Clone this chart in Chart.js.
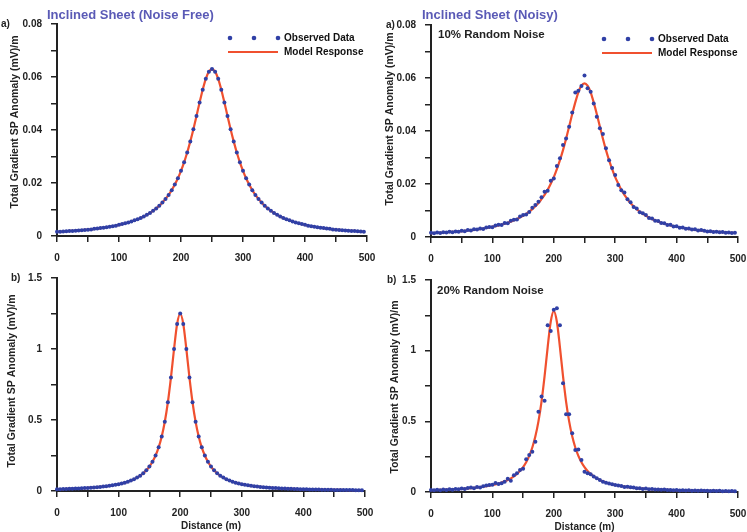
<!DOCTYPE html>
<html>
<head>
<meta charset="utf-8">
<script src="https://cdn.jsdelivr.net/npm/chart.js@4.4.1/dist/chart.umd.min.js"></script>
<style>
  html, body { margin: 0; padding: 0; background: #ffffff; }
  #wrap { position: relative; width: 747px; height: 532px; overflow: hidden; background: #ffffff; }
  #wrap canvas { position: absolute; left: 0; top: 0; }
</style>
</head>
<body>
<div id="wrap">
  <canvas id="panelTL" width="747" height="532"></canvas>
  <canvas id="panelTR" width="747" height="532"></canvas>
  <canvas id="panelBL" width="747" height="532"></canvas>
  <canvas id="panelBR" width="747" height="532"></canvas>
</div>
<script>
// Station positions along the profile (m)
const distance = [
  0,5,10,15,20,25,30,35,40,45,50,55,60,65,70,75,80,85,90,95,
  100,105,110,115,120,125,130,135,140,145,150,155,160,165,170,175,180,185,190,195,
  200,205,210,215,220,225,230,235,240,245,250,255,260,265,270,275,280,285,290,295,
  300,305,310,315,320,325,330,335,340,345,350,355,360,365,370,375,380,385,390,395,
  400,405,410,415,420,425,430,435,440,445,450,455,460,465,470,475,480,485,490,495
];

// a) noise-free total gradient (mV/m) — observed and model coincide
const sheetA = [
  0.0016,0.0016,0.0017,0.0018,0.0019,0.0019,0.0020,0.0021,0.0022,0.0023,
  0.0024,0.0025,0.0027,0.0028,0.0030,0.0031,0.0033,0.0035,0.0037,0.0039,
  0.0042,0.0045,0.0048,0.0051,0.0055,0.0059,0.0063,0.0068,0.0074,0.0080,
  0.0087,0.0095,0.0104,0.0114,0.0126,0.0140,0.0155,0.0173,0.0194,0.0218,
  0.0246,0.0278,0.0315,0.0357,0.0403,0.0453,0.0504,0.0552,0.0593,0.0620,
  0.0630,0.0620,0.0593,0.0552,0.0504,0.0453,0.0403,0.0357,0.0315,0.0278,
  0.0246,0.0218,0.0194,0.0173,0.0155,0.0140,0.0126,0.0114,0.0104,0.0095,
  0.0087,0.0080,0.0074,0.0068,0.0063,0.0059,0.0055,0.0051,0.0048,0.0045,
  0.0042,0.0039,0.0037,0.0035,0.0033,0.0031,0.0030,0.0028,0.0027,0.0025,
  0.0024,0.0023,0.0022,0.0021,0.0020,0.0019,0.0019,0.0018,0.0017,0.0016
];

// b) noise-free total gradient (mV/m)
const sheetB = [
  0.0124,0.0130,0.0137,0.0144,0.0152,0.0161,0.0171,0.0181,0.0192,0.0205,
  0.0218,0.0233,0.0250,0.0268,0.0289,0.0312,0.0338,0.0367,0.0400,0.0438,
  0.0481,0.0531,0.0588,0.0656,0.0735,0.0830,0.0943,0.1081,0.1250,0.1460,
  0.1724,0.2062,0.2500,0.3077,0.3846,0.4878,0.6250,0.8000,1.0000,1.1765,
  1.2500,1.1765,1.0000,0.8000,0.6250,0.4878,0.3846,0.3077,0.2500,0.2062,
  0.1724,0.1460,0.1250,0.1081,0.0943,0.0830,0.0735,0.0656,0.0588,0.0531,
  0.0481,0.0438,0.0400,0.0367,0.0338,0.0312,0.0289,0.0268,0.0250,0.0233,
  0.0218,0.0205,0.0192,0.0181,0.0171,0.0161,0.0152,0.0144,0.0137,0.0130,
  0.0124,0.0118,0.0112,0.0107,0.0102,0.0098,0.0094,0.0090,0.0086,0.0083,
  0.0079,0.0076,0.0074,0.0071,0.0068,0.0066,0.0063,0.0061,0.0059,0.0057
];

// a) 10% noise: observed data and inverted model response
const noisyAObserved = [
  0.0016,0.0014,0.0017,0.0015,0.0018,0.0017,0.0020,0.0018,0.0021,0.0020,
  0.0024,0.0022,0.0026,0.0025,0.0029,0.0028,0.0032,0.0030,0.0036,0.0038,
  0.0037,0.0043,0.0046,0.0045,0.0053,0.0052,0.0061,0.0065,0.0066,0.0077,
  0.0083,0.0085,0.0094,0.0110,0.0121,0.0133,0.0150,0.0171,0.0175,0.0212,
  0.0221,0.0268,0.0297,0.0347,0.0372,0.0416,0.0470,0.0545,0.0552,0.0570,
  0.0609,0.0561,0.0548,0.0504,0.0454,0.0410,0.0389,0.0335,0.0290,0.0260,
  0.0234,0.0196,0.0176,0.0168,0.0142,0.0131,0.0113,0.0108,0.0093,0.0090,
  0.0083,0.0072,0.0070,0.0061,0.0060,0.0053,0.0052,0.0045,0.0046,0.0040,
  0.0041,0.0035,0.0036,0.0031,0.0032,0.0028,0.0029,0.0025,0.0026,0.0024,
  0.0021,0.0022,0.0019,0.0020,0.0018,0.0019,0.0016,0.0017,0.0015,0.0016
];
const noisyAModel = [
  0.0014,0.0015,0.0016,0.0016,0.0017,0.0018,0.0019,0.0019,0.0020,0.0021,
  0.0022,0.0023,0.0025,0.0026,0.0027,0.0029,0.0030,0.0032,0.0034,0.0036,
  0.0039,0.0041,0.0044,0.0047,0.0050,0.0054,0.0058,0.0063,0.0068,0.0074,
  0.0080,0.0087,0.0096,0.0105,0.0116,0.0128,0.0143,0.0159,0.0178,0.0201,
  0.0226,0.0256,0.0290,0.0328,0.0371,0.0417,0.0464,0.0508,0.0546,0.0571,
  0.0580,0.0571,0.0546,0.0508,0.0464,0.0417,0.0371,0.0328,0.0290,0.0256,
  0.0226,0.0201,0.0178,0.0159,0.0143,0.0128,0.0116,0.0105,0.0096,0.0087,
  0.0080,0.0074,0.0068,0.0063,0.0058,0.0054,0.0050,0.0047,0.0044,0.0041,
  0.0039,0.0036,0.0034,0.0032,0.0030,0.0029,0.0027,0.0026,0.0025,0.0023,
  0.0022,0.0021,0.0020,0.0019,0.0019,0.0018,0.0017,0.0016,0.0016,0.0015
];

// b) 20% noise: observed data and inverted model response
const noisyBObserved = [
  0.014,0.012,0.016,0.013,0.017,0.015,0.019,0.016,0.022,0.019,
  0.025,0.021,0.028,0.031,0.026,0.035,0.031,0.041,0.046,0.049,
  0.052,0.063,0.057,0.062,0.073,0.094,0.080,0.118,0.133,0.156,
  0.165,0.232,0.262,0.285,0.356,0.568,0.675,0.646,1.180,1.140,
  1.290,1.300,1.180,0.770,0.550,0.550,0.415,0.297,0.300,0.226,
  0.144,0.132,0.125,0.110,0.097,0.085,0.073,0.065,0.061,0.055,
  0.050,0.046,0.043,0.036,0.038,0.033,0.031,0.026,0.027,0.022,
  0.024,0.019,0.022,0.017,0.018,0.016,0.017,0.014,0.015,0.013,
  0.014,0.011,0.013,0.010,0.012,0.009,0.011,0.008,0.010,0.008,
  0.009,0.007,0.008,0.007,0.008,0.006,0.007,0.006,0.007,0.005
];
const noisyBModel = [
  0.0127,0.0133,0.0140,0.0148,0.0156,0.0165,0.0175,0.0185,0.0197,0.0210,
  0.0224,0.0239,0.0256,0.0275,0.0296,0.0319,0.0346,0.0376,0.0410,0.0448,
  0.0492,0.0543,0.0602,0.0671,0.0753,0.0850,0.0966,0.1107,0.1280,0.1495,
  0.1766,0.2111,0.2560,0.3151,0.3938,0.4995,0.6400,0.8192,1.0240,1.2047,
  1.2800,1.2047,1.0240,0.8192,0.6400,0.4995,0.3938,0.3151,0.2560,0.2111,
  0.1766,0.1495,0.1280,0.1107,0.0966,0.0850,0.0753,0.0671,0.0602,0.0543,
  0.0492,0.0448,0.0410,0.0376,0.0346,0.0319,0.0296,0.0275,0.0256,0.0239,
  0.0224,0.0210,0.0197,0.0185,0.0175,0.0165,0.0156,0.0148,0.0140,0.0133,
  0.0127,0.0121,0.0115,0.0110,0.0105,0.0100,0.0096,0.0092,0.0088,0.0085,
  0.0081,0.0078,0.0075,0.0073,0.0070,0.0067,0.0065,0.0062,0.0060,0.0058
];

// Axis ticks (every tick gets a mark, only some get a label)
const xTickValues = [0,50,100,150,200,250,300,350,400,450,500];
const xTickLabels = ['0','','100','','200','','300','','400','','500'];
const yTickValuesA = [0,0.01,0.02,0.03,0.04,0.05,0.06,0.07,0.08];
const yTickLabelsA = ['0','','0.02','','0.04','','0.06','','0.08'];
const yTickValuesB = [0,0.25,0.5,0.75,1,1.25,1.5];
const yTickLabelsB = ['0','','0.5','','1','','1.5'];

const FONT = '"Liberation Sans", Arial, Helvetica, sans-serif';
const DOT = '#3040a6';
const LINE = '#f0502f';
const AXIS = '#222222';
const TITLE = '#5a5ab6';
const Y_TITLE = 'Total Gradient SP Anomaly (mV)/m';

const toPoints = (ys) => distance.map((x, i) => ({ x: x, y: ys[i] }));

// Texts around each panel: heading, panel tag, noise note, legend, axis titles
const decor = {
  id: 'decor',
  afterDraw(chart, args, o) {
    const ctx = chart.ctx;
    const a = chart.chartArea;
    ctx.save();
    ctx.textBaseline = 'middle';
    if (o.title) {
      ctx.font = 'bold 13px ' + FONT;
      ctx.fillStyle = TITLE;
      ctx.textAlign = 'left';
      ctx.fillText(o.title, o.titleX, o.titleY);
    }
    ctx.fillStyle = AXIS;
    ctx.font = 'bold 10px ' + FONT;
    ctx.textAlign = 'left';
    ctx.fillText(o.tag, o.tagX, o.tagY);
    if (o.note) {
      ctx.font = 'bold 11.5px ' + FONT;
      ctx.fillText(o.note, o.noteX, o.noteY);
    }
    if (o.legend) {
      const ly = a.top + 14;
      ctx.fillStyle = DOT;
      [173, 197, 221].forEach(dx => {
        ctx.beginPath();
        ctx.arc(a.left + dx, ly, 2.3, 0, Math.PI * 2);
        ctx.fill();
      });
      ctx.strokeStyle = LINE;
      ctx.lineWidth = 2.2;
      ctx.beginPath();
      ctx.moveTo(a.left + 171, ly + 14);
      ctx.lineTo(a.left + 221, ly + 14);
      ctx.stroke();
      ctx.fillStyle = '#111';
      ctx.font = 'bold 10px ' + FONT;
      ctx.fillText('Observed Data', a.left + 227, ly);
      ctx.fillText('Model Response', a.left + 227, ly + 14);
    }
    // y-axis title
    ctx.save();
    ctx.translate(o.yTitleX, o.yTitleY);
    ctx.rotate(-Math.PI / 2);
    ctx.textAlign = 'center';
    ctx.fillStyle = AXIS;
    ctx.font = 'bold 10.5px ' + FONT;
    ctx.fillText(Y_TITLE, 0, 0);
    ctx.restore();
    if (o.xTitle) {
      ctx.textAlign = 'center';
      ctx.fillStyle = AXIS;
      ctx.font = 'bold 10px ' + FONT;
      ctx.fillText(o.xTitle, (a.left + a.right) / 2, o.xTitleY);
    }
    ctx.restore();
  }
};

function makePanel(id, area, obs, model, yMax, yVals, yLabels, deco) {
  const W = 747, H = 532, Y_W = 57, X_H = 30;
  return new Chart(document.getElementById(id), {
    type: 'scatter',
    data: {
      datasets: [
        {
          label: 'Observed Data',
          data: toPoints(obs),
          showLine: false,
          pointRadius: 2,
          pointHoverRadius: 2,
          pointBackgroundColor: DOT,
          pointBorderWidth: 0,
          clip: false
        },
        {
          label: 'Model Response',
          data: toPoints(model),
          showLine: true,
          borderColor: LINE,
          borderWidth: 2.2,
          pointRadius: 0,
          cubicInterpolationMode: 'monotone',
          clip: false
        }
      ]
    },
    options: {
      responsive: false,
      animation: false,
      devicePixelRatio: 1,
      layout: {
        padding: {
          left: area.left - Y_W,
          right: W - area.right,
          top: area.top,
          bottom: H - area.bottom - X_H
        }
      },
      plugins: {
        legend: { display: false },
        tooltip: { enabled: false },
        decor: deco
      },
      scales: {
        x: {
          type: 'linear',
          min: 0,
          max: 500,
          afterBuildTicks: s => { s.ticks = xTickValues.map(v => ({ value: v })); },
          afterFit: s => { s.height = X_H; s.paddingLeft = 0; s.paddingRight = 0; },
          ticks: {
            callback: (v, i) => xTickLabels[i],
            color: AXIS,
            font: { family: FONT, weight: 'bold', size: 10 },
            padding: 10,
            maxRotation: 0,
            autoSkip: false
          },
          grid: { drawOnChartArea: false, drawTicks: true, tickLength: 6, color: AXIS, lineWidth: 1.5 },
          border: { display: true, color: AXIS, width: 2 }
        },
        y: {
          type: 'linear',
          min: 0,
          max: yMax,
          afterBuildTicks: s => { s.ticks = yVals.map(v => ({ value: v })); },
          afterFit: s => { s.width = Y_W; s.paddingTop = 0; s.paddingBottom = 0; },
          ticks: {
            callback: (v, i) => yLabels[i],
            color: AXIS,
            font: { family: FONT, weight: 'bold', size: 10 },
            padding: 9,
            autoSkip: false
          },
          grid: { drawOnChartArea: false, drawTicks: true, tickLength: 6, color: AXIS, lineWidth: 1.5 },
          border: { display: true, color: AXIS, width: 2 }
        }
      }
    },
    plugins: [decor]
  });
}

makePanel('panelTL', { left: 57, right: 367, top: 24, bottom: 236 },
  sheetA, sheetA, 0.08, yTickValuesA, yTickLabelsA, {
    title: 'Inclined Sheet (Noise Free)', titleX: 47, titleY: 15,
    tag: 'a)', tagX: 1, tagY: 24,
    legend: true,
    yTitleX: 15, yTitleY: 122
  });

makePanel('panelTR', { left: 431, right: 738, top: 25, bottom: 237 },
  noisyAObserved, noisyAModel, 0.08, yTickValuesA, yTickLabelsA, {
    title: 'Inclined Sheet (Noisy)', titleX: 422, titleY: 15,
    tag: 'a)', tagX: 386, tagY: 25,
    note: '10% Random Noise', noteX: 438, noteY: 35,
    legend: true,
    yTitleX: 390, yTitleY: 119
  });

makePanel('panelBL', { left: 57, right: 365, top: 278, bottom: 491 },
  sheetB, sheetB, 1.5, yTickValuesB, yTickLabelsB, {
    tag: 'b)', tagX: 11, tagY: 278,
    yTitleX: 12, yTitleY: 381,
    xTitle: 'Distance (m)', xTitleY: 526
  });

makePanel('panelBR', { left: 431, right: 738, top: 280, bottom: 492 },
  noisyBObserved, noisyBModel, 1.5, yTickValuesB, yTickLabelsB, {
    tag: 'b)', tagX: 387, tagY: 280,
    note: '20% Random Noise', noteX: 437, noteY: 291,
    yTitleX: 395, yTitleY: 387,
    xTitle: 'Distance (m)', xTitleY: 527
  });
</script>
</body>
</html>
